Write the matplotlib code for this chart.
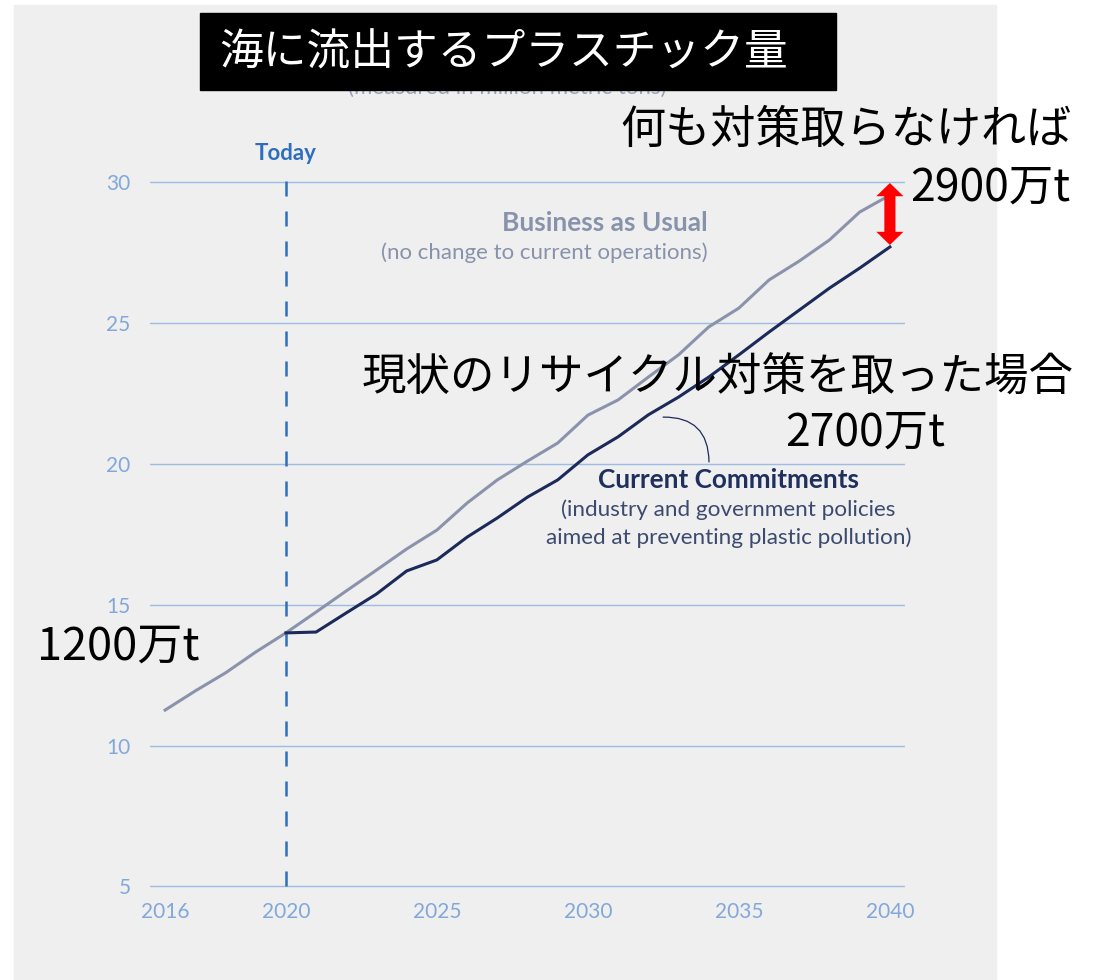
import matplotlib
matplotlib.use("Agg")
import matplotlib.pyplot as plt
from matplotlib.patches import Rectangle

# data (million metric tons)
years = list(range(2016, 2041))
bau = [11.26, 11.94, 12.58, 13.32, 14.00, 14.74, 15.49, 16.23, 16.98, 17.65,
       18.61, 19.43, 20.10, 20.74, 21.73, 22.27, 23.08, 23.87, 24.86, 25.53,
       26.53, 27.20, 27.95, 28.94, 29.54]
cc_years = list(range(2020, 2041))
current = [14.00, 14.03, 14.71, 15.38, 16.20, 16.59, 17.40, 18.08, 18.82, 19.43,
           20.32, 20.96, 21.74, 22.37, 23.08, 23.87, 24.68, 25.46, 26.24, 26.95,
           27.70]
ytick_vals = [5, 10, 15, 20, 25, 30]
xtick_vals = [2016, 2020, 2025, 2030, 2035, 2040]

W, H = 1095, 980
def fx(px):
    return px / W
def fy(py):
    return 1 - py / H

JP = ['Noto Sans CJK JP', 'DejaVu Sans']
EN = ['Lato', 'DejaVu Sans']

fig = plt.figure(figsize=(W / 100, H / 100), dpi=100)
fig.patch.set_facecolor('white')

# grey panel behind the chart
fig.patches.append(Rectangle((fx(14), 0), (996 - 14) / W, fy(5), transform=fig.transFigure,
                             color='#efefef', zorder=-10))

ax = fig.add_axes([fx(150), fy(900.5), 755 / W, (900.5 - 154) / H])
ax.set_facecolor('none')
ax.set_xlim(2015.5, 2040.5)
ax.set_ylim(4.5, 31)
for s in ax.spines.values():
    s.set_visible(False)

ax.set_yticks(ytick_vals)
ax.set_xticks(xtick_vals)
ax.grid(axis='y', color='#9dbbe3', lw=1.0)
ax.set_axisbelow(True)
ax.tick_params(length=0, labelcolor='#82a8da', labelsize=15)
ax.tick_params(axis='y', pad=14)
ax.tick_params(axis='x', pad=1)
for lab in ax.get_xticklabels() + ax.get_yticklabels():
    lab.set_family(EN)

# today marker
ax.plot([2020, 2020], [5, 30.36], color='#2d6fbd', lw=1.8, ls=(0, (6, 6)), zorder=2)
ax.text(2020, 31.0, 'Today', color='#2d6fbd', fontsize=16, fontweight='bold',
        family=EN, ha='center', va='center')

ax.plot(years, bau, color='#8a93ab', lw=2.2, zorder=3)
ax.plot(cc_years, current, color='#1c2a5a', lw=2.2, zorder=4)

# red double arrow, drawn as two filled arrows from the middle
mid = (29.97 + 27.77) / 2
for tip in (29.97, 27.77):
    ax.annotate('', xy=(2040, tip), xytext=(2040, mid),
                arrowprops=dict(arrowstyle='simple,head_length=0.95,head_width=1.95,tail_width=0.8',
                                color='#ff0000', lw=0, shrinkA=0, shrinkB=0,
                                mutation_scale=10), zorder=6)

# series labels
ax.text(2033.95, 28.55, 'Business as Usual', color='#8792ab', fontsize=19, fontweight='bold',
        family=EN, ha='right', va='center')
ax.text(2033.95, 27.49, '(no change to current operations)', color='#8792ab', fontsize=16,
        family=EN, ha='right', va='center')

ax.annotate('', xy=(2034.01, 20.07), xytext=(2032.49, 21.66),
            arrowprops=dict(arrowstyle='-', color='#1c2a5a', lw=0.9,
                            connectionstyle='arc3,rad=-0.5', shrinkA=0, shrinkB=0))
ax.text(2034.65, 19.43, 'Current Commitments', color='#1f2f5e', fontsize=18.8, fontweight='bold',
        family=EN, ha='center', va='center')
ax.text(2034.65, 18.36, '(industry and government policies', color='#3c4a6e', fontsize=16.2,
        family=EN, ha='center', va='center')
ax.text(2034.65, 17.37, 'aimed at preventing plastic pollution)', color='#3c4a6e', fontsize=16.2,
        family=EN, ha='center', va='center')

# subtitle partly hidden by the title box
fig.text(fx(507), fy(88), '(measured in million metric tons)', color='#9aa5b8', fontsize=16,
         family=EN, ha='center', va='center', zorder=4)

# title box
fig.patches.append(Rectangle((fx(200), fy(90)), 636 / W, 77 / H, transform=fig.transFigure,
                             color='black', zorder=5))
fig.text(fx(219), fy(52), '海に流出するプラスチック量', color='white', fontsize=31.5,
         family=JP, ha='left', va='center', zorder=6)

# japanese notes
fig.text(fx(1072), fy(130), '何も対策取らなければ', color='black', fontsize=32.5,
         family=JP, ha='right', va='center', zorder=10)
fig.text(fx(1070), fy(188), '2900万t', color='black', fontsize=32,
         family=JP, ha='right', va='center', zorder=10)
fig.text(fx(1074), fy(378), '現状のリサイクル対策を取った場合', color='black', fontsize=32,
         family=JP, ha='right', va='center', zorder=10)
fig.text(fx(945), fy(433), '2700万t', color='black', fontsize=32,
         family=JP, ha='right', va='center', zorder=10)
fig.text(fx(37), fy(647), '1200万t', color='black', fontsize=32.5,
         family=JP, ha='left', va='center', zorder=10)

fig.savefig('out.png', dpi=100)
